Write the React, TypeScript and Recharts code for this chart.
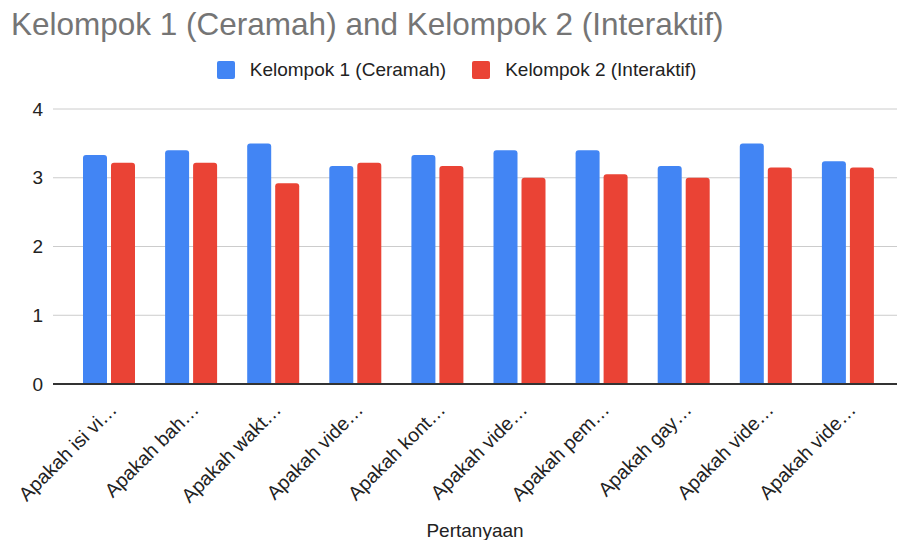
import React from 'react';
import { BarChart, Bar, XAxis, YAxis, CartesianGrid } from 'recharts';

const categories = [
  'Apakah isi vi…',
  'Apakah bah…',
  'Apakah wakt…',
  'Apakah vide…',
  'Apakah kont…',
  'Apakah vide…',
  'Apakah pem…',
  'Apakah gay…',
  'Apakah vide…',
  'Apakah vide…',
];
const kelompok1 = [3.33, 3.4, 3.5, 3.17, 3.33, 3.4, 3.4, 3.17, 3.5, 3.24];
const kelompok2 = [3.22, 3.22, 2.92, 3.22, 3.17, 3.0, 3.05, 3.0, 3.15, 3.15];
const yTicks = [0, 1, 2, 3, 4];
const seriesNames = ['Kelompok 1 (Ceramah)', 'Kelompok 2 (Interaktif)'];
const colors = ['#4285F4', '#EA4335'];
const title = 'Kelompok 1 (Ceramah) and Kelompok 2 (Interaktif)';
const xTitle = 'Pertanyaan';

const data = categories.map((c, i) => ({ idx: i, name: c, k1: kelompok1[i], k2: kelompok2[i] }));

const FONT = '"Liberation Sans", Arial, sans-serif';

const XTick = (props: any) => {
  const { x, y, payload } = props;
  const ax = x + 9;
  const ay = y + 19;
  return (
    <text
      x={ax}
      y={ay}
      textAnchor="end"
      transform={`rotate(-45 ${ax} ${ay})`}
      fontSize={19.5}
      fontFamily={FONT}
      fill="#222"
    >
      {categories[payload.value]}
    </text>
  );
};

export default function App() {
  return (
    <div style={{ position: 'absolute', left: 0, top: 0, width: 897, height: 540, background: '#fff', fontFamily: FONT }}>
      <div style={{ position: 'absolute', left: 11, top: 4, fontSize: 31.5, color: '#757575', whiteSpace: 'nowrap', lineHeight: '40px' }}>
        {title}
      </div>
      <div style={{ position: 'absolute', left: 0, top: 58, width: 897, display: 'flex', justifyContent: 'center', alignItems: 'center', fontSize: 19, color: '#222', lineHeight: '24px', paddingLeft: 16, boxSizing: 'border-box' }}>
        {seriesNames.map((n, i) => (
          <div key={n} style={{ display: 'flex', alignItems: 'center', marginRight: i === 0 ? 26 : 0 }}>
            <div style={{ width: 18, height: 18, background: colors[i], borderRadius: 2, marginRight: 15 }} />
            <span>{n}</span>
          </div>
        ))}
      </div>
      <BarChart
        width={897}
        height={540}
        data={data}
        margin={{ top: 109, right: 0, bottom: 0, left: 0 }}
        barSize={24}
        barGap={4}
      >
        <CartesianGrid horizontal vertical={false} stroke="#cccccc" />
        <XAxis
          dataKey="idx"
          type="category"
          height={156}
          padding={{ left: 15, right: 8 }}
          axisLine={{ stroke: '#333', strokeWidth: 2 }}
          tickLine={false}
          interval={0}
          tick={<XTick />}
          label={{ value: xTitle, position: 'insideBottom', offset: 3, fontSize: 19, fill: '#222', fontFamily: FONT }}
        />
        <YAxis
          domain={[0, 4]}
          ticks={yTicks}
          axisLine={false}
          tickLine={false}
          width={53}
          tickMargin={4}
          tick={{ fontSize: 19, fill: '#222', fontFamily: FONT }}
        />
        <Bar dataKey="k1" name={seriesNames[0]} fill={colors[0]} radius={[3, 3, 0, 0]} isAnimationActive={false} />
        <Bar dataKey="k2" name={seriesNames[1]} fill={colors[1]} radius={[3, 3, 0, 0]} isAnimationActive={false} />
      </BarChart>
    </div>
  );
}
